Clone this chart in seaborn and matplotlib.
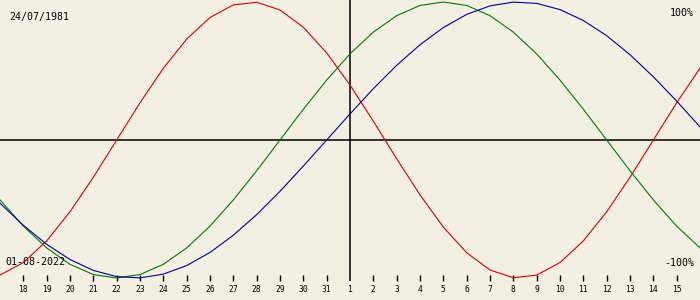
import matplotlib
matplotlib.use("Agg")
import matplotlib.pyplot as plt
import seaborn as sns
import pandas as pd

birth_label = "24/07/1981"
date_label = "01-08-2022"

# days relative to 01-08-2022 (17 Jul .. 16 Aug)
day_offset = [-15, -14, -13, -12, -11, -10, -9, -8, -7, -6, -5, -4, -3, -2, -1,
              0, 1, 2, 3, 4, 5, 6, 7, 8, 9, 10, 11, 12, 13, 14, 15]

physical = [-97.9, -88.8, -73.1, -52.0, -27.0, 0.0, 27.0, 52.0, 73.1, 88.8, 97.9,
            99.8, 94.2, 81.7, 63.1, 39.8, 13.6, -13.6, -39.8, -63.1, -81.7,
            -94.2, -99.8, -97.9, -88.8, -73.1, -52.0, -27.0, 0.0, 27.0, 52.0]
emotional = [-43.4, -62.4, -78.2, -90.1, -97.5, -100.0, -97.5, -90.1, -78.2, -62.4,
             -43.4, -22.3, 0.0, 22.3, 43.4, 62.4, 78.2, 90.1, 97.5, 100.0, 97.5,
             90.1, 78.2, 62.4, 43.4, 22.3, 0.0, -22.3, -43.4, -62.4, -78.2]
intellectual = [-45.8, -61.8, -75.6, -86.6, -94.5, -99.0, -99.9, -97.2, -91.0, -81.5,
                -69.0, -54.1, -37.2, -18.9, 0.0, 18.9, 37.2, 54.1, 69.0, 81.5, 91.0,
                97.2, 99.9, 99.0, 94.5, 86.6, 75.6, 61.8, 45.8, 28.2, 9.5]

tick_offsets = [-14, -13, -12, -11, -10, -9, -8, -7, -6, -5, -4, -3, -2, -1,
                1, 2, 3, 4, 5, 6, 7, 8, 9, 10, 11, 12, 13, 14]
tick_labels = ["18", "19", "20", "21", "22", "23", "24", "25", "26", "27", "28",
               "29", "30", "31", "2", "3", "4", "5", "6", "7", "8", "9", "10",
               "11", "12", "13", "14", "15"]
center_label = "1"

df = pd.DataFrame({
    "day": day_offset * 3,
    "value": physical + emotional + intellectual,
    "cycle": ["physical"] * len(day_offset) + ["emotional"] * len(day_offset)
             + ["intellectual"] * len(day_offset),
})

bg = "#F3EFE3"
fig = plt.figure(figsize=(7, 3), dpi=100, facecolor=bg)
ax = fig.add_axes([0, 0, 1, 1])
ax.set_facecolor(bg)

PX = 1.38  # pixels per percent unit
y_top = 140 / PX
y_bot = -160 / PX

def ypx(p):
    return (140 - p) / PX

ax.axhline(0, color="black", lw=1.1, zorder=1)
ax.vlines(0, ypx(281), y_top, color="black", lw=1.1, zorder=1)
ax.vlines(tick_offsets, ypx(281), ypx(275), color="black", lw=1.0, zorder=1)

sns.lineplot(data=df, x="day", y="value", hue="cycle", ax=ax,
             palette={"physical": "#DD0000", "emotional": "#007A00",
                      "intellectual": "#000090"},
             hue_order=["physical", "emotional", "intellectual"],
             lw=0.8, legend=False, zorder=3)

mono = "DejaVu Sans Mono"
for x, lab in zip(tick_offsets, tick_labels):
    ax.text(x, ypx(289), lab, ha="center", va="center", fontsize=5.8,
            family=mono, color="black")
ax.text(0, ypx(289), center_label, ha="center", va="center", fontsize=5.8,
        family=mono, color="black")

ax.text(-15 + 9 * 30 / 700, ypx(17), birth_label, ha="left", va="center",
        fontsize=7.2, family=mono, color="black")
ax.text(-15 + 5 * 30 / 700, ypx(262), date_label, ha="left", va="center",
        fontsize=7.2, family=mono, color="black")
ax.text(-15 + 694 * 30 / 700, ypx(13), "100%", ha="right", va="center",
        fontsize=7.2, family=mono, color="black")
ax.text(-15 + 694 * 30 / 700, ypx(263), "-100%", ha="right", va="center",
        fontsize=7.2, family=mono, color="black")

ax.set_xlim(-15, 15)
ax.set_ylim(y_bot, y_top)
ax.axis("off")

fig.savefig("out.png", dpi=100, facecolor=bg)
